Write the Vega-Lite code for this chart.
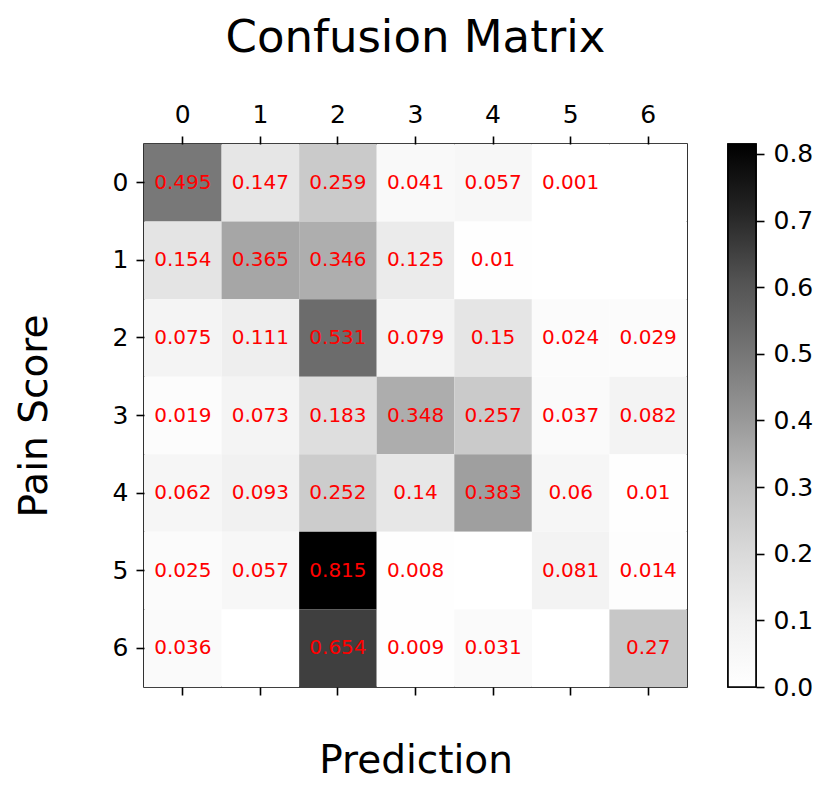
{
  "$schema": "https://vega.github.io/schema/vega-lite/v6.json",
  "padding": {"left": 14, "top": 15, "right": 5, "bottom": 5},
  "bounds": "flush",
  "spacing": 41,
  "config": {
    "font": "DejaVu Sans",
    "view": {"stroke": "black", "strokeWidth": 1.6},
    "axis": {
      "domain": false,
      "grid": false,
      "tickColor": "black",
      "tickWidth": 1.6,
      "tickSize": 8,
      "labelFontSize": 25,
      "labelColor": "black",
      "labelFont": "DejaVu Sans",
      "titleFont": "DejaVu Sans",
      "titleFontWeight": "normal",
      "titleColor": "black"
    }
  },
  "datasets": {
    "cm": [
      {"actual": 0, "pred": 0, "value": 0.495},
      {"actual": 0, "pred": 1, "value": 0.147},
      {"actual": 0, "pred": 2, "value": 0.259},
      {"actual": 0, "pred": 3, "value": 0.041},
      {"actual": 0, "pred": 4, "value": 0.057},
      {"actual": 0, "pred": 5, "value": 0.001},
      {"actual": 0, "pred": 6, "value": 0},
      {"actual": 1, "pred": 0, "value": 0.154},
      {"actual": 1, "pred": 1, "value": 0.365},
      {"actual": 1, "pred": 2, "value": 0.346},
      {"actual": 1, "pred": 3, "value": 0.125},
      {"actual": 1, "pred": 4, "value": 0.01},
      {"actual": 1, "pred": 5, "value": 0},
      {"actual": 1, "pred": 6, "value": 0},
      {"actual": 2, "pred": 0, "value": 0.075},
      {"actual": 2, "pred": 1, "value": 0.111},
      {"actual": 2, "pred": 2, "value": 0.531},
      {"actual": 2, "pred": 3, "value": 0.079},
      {"actual": 2, "pred": 4, "value": 0.15},
      {"actual": 2, "pred": 5, "value": 0.024},
      {"actual": 2, "pred": 6, "value": 0.029},
      {"actual": 3, "pred": 0, "value": 0.019},
      {"actual": 3, "pred": 1, "value": 0.073},
      {"actual": 3, "pred": 2, "value": 0.183},
      {"actual": 3, "pred": 3, "value": 0.348},
      {"actual": 3, "pred": 4, "value": 0.257},
      {"actual": 3, "pred": 5, "value": 0.037},
      {"actual": 3, "pred": 6, "value": 0.082},
      {"actual": 4, "pred": 0, "value": 0.062},
      {"actual": 4, "pred": 1, "value": 0.093},
      {"actual": 4, "pred": 2, "value": 0.252},
      {"actual": 4, "pred": 3, "value": 0.14},
      {"actual": 4, "pred": 4, "value": 0.383},
      {"actual": 4, "pred": 5, "value": 0.06},
      {"actual": 4, "pred": 6, "value": 0.01},
      {"actual": 5, "pred": 0, "value": 0.025},
      {"actual": 5, "pred": 1, "value": 0.057},
      {"actual": 5, "pred": 2, "value": 0.815},
      {"actual": 5, "pred": 3, "value": 0.008},
      {"actual": 5, "pred": 4, "value": 0},
      {"actual": 5, "pred": 5, "value": 0.081},
      {"actual": 5, "pred": 6, "value": 0.014},
      {"actual": 6, "pred": 0, "value": 0.036},
      {"actual": 6, "pred": 1, "value": 0},
      {"actual": 6, "pred": 2, "value": 0.654},
      {"actual": 6, "pred": 3, "value": 0.009},
      {"actual": 6, "pred": 4, "value": 0.031},
      {"actual": 6, "pred": 5, "value": 0},
      {"actual": 6, "pred": 6, "value": 0.27}
    ],
    "cbar": [{"lo": 0, "hi": 0.815}]
  },
  "hconcat": [
    {
      "width": 543,
      "height": 543,
      "title": {
        "text": "Confusion Matrix",
        "fontSize": 45,
        "fontWeight": "normal",
        "font": "DejaVu Sans",
        "color": "black",
        "anchor": "middle",
        "frame": "group",
        "offset": 41
      },
      "data": {"name": "cm"},
      "resolve": {"axis": {"x": "independent"}},
      "layer": [
        {
          "mark": {"type": "rect"},
          "encoding": {
            "x": {
              "field": "pred", "type": "ordinal",
              "scale": {"domain": [0, 1, 2, 3, 4, 5, 6], "paddingInner": 0, "paddingOuter": 0},
              "axis": {"orient": "top", "labelAngle": 0, "labelPadding": 9, "labelFontSize": 25, "title": null}
            },
            "y": {
              "field": "actual", "type": "ordinal",
              "scale": {"domain": [0, 1, 2, 3, 4, 5, 6], "paddingInner": 0, "paddingOuter": 0},
              "axis": {"orient": "left", "labelAngle": 0, "labelPadding": 8, "labelFontSize": 25, "title": "Pain Score", "titleFontSize": 39, "titlePadding": 58}
            },
            "color": {
              "field": "value", "type": "quantitative",
              "scale": {
                "domain": [0, 0.101875, 0.20375, 0.305625, 0.4075, 0.509375, 0.61125, 0.713125, 0.815],
                "range": ["#ffffff", "#f0f0f0", "#d9d9d9", "#bdbdbd", "#969696", "#737373", "#525252", "#252525", "#000000"],
                "interpolate": "rgb"
              },
              "legend": null
            }
          }
        },
        {
          "transform": [{"filter": "datum.value > 0"}],
          "mark": {"type": "text", "color": "#ff0000", "fontSize": 20, "font": "DejaVu Sans", "align": "center", "baseline": "middle"},
          "encoding": {
            "x": {
              "field": "pred", "type": "ordinal",
              "axis": {"orient": "bottom", "labels": false, "title": "Prediction", "titleFontSize": 39, "titlePadding": 46}
            },
            "y": {"field": "actual", "type": "ordinal"},
            "text": {"field": "value", "type": "nominal"}
          }
        }
      ]
    },
    {
      "width": 28,
      "height": 543,
      "data": {"name": "cbar"},
      "mark": {
        "type": "rect",
        "stroke": "black",
        "strokeWidth": 1.6,
        "fill": {
          "gradient": "linear",
          "x1": 0, "y1": 1, "x2": 0, "y2": 0,
          "stops": [
            {"offset": 0, "color": "#ffffff"},
            {"offset": 0.125, "color": "#f0f0f0"},
            {"offset": 0.25, "color": "#d9d9d9"},
            {"offset": 0.375, "color": "#bdbdbd"},
            {"offset": 0.5, "color": "#969696"},
            {"offset": 0.625, "color": "#737373"},
            {"offset": 0.75, "color": "#525252"},
            {"offset": 0.875, "color": "#252525"},
            {"offset": 1, "color": "#000000"}
          ]
        }
      },
      "encoding": {
        "y": {
          "field": "lo", "type": "quantitative",
          "scale": {"domain": [0, 0.815], "nice": false, "zero": false},
          "axis": {"orient": "right", "values": [0, 0.1, 0.2, 0.3, 0.4, 0.5, 0.6, 0.7, 0.8], "format": ".1f", "labelPadding": 9, "labelFontSize": 25, "title": null}
        },
        "y2": {"field": "hi"}
      }
    }
  ]
}
